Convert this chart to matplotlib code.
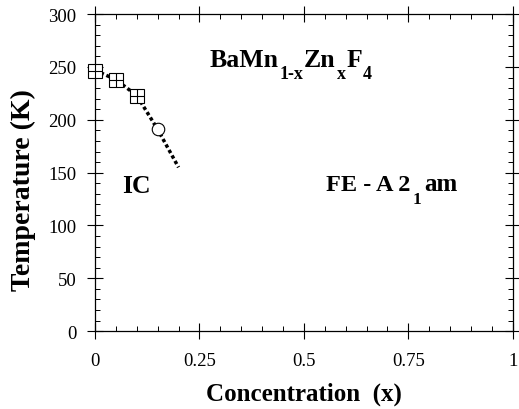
import matplotlib
matplotlib.use("Agg")
import matplotlib.pyplot as plt
from matplotlib.ticker import MultipleLocator

plt.rcParams['font.family'] = ['Liberation Serif', 'DejaVu Serif']

# Phase boundary (IC -> FE) of BaMn(1-x)Zn(x)F4
line_x = [0.0, 0.05, 0.10, 0.15, 0.20]
line_T = [247, 238, 223, 191, 155]

# Measured transition temperatures
square_x = [0.0, 0.05, 0.10]
square_T = [246, 238, 223]
circle_x = [0.15]
circle_T = [191]

x_ticks = [0, 0.25, 0.5, 0.75, 1]
x_tick_labels = ['0', '0.25', '0.5', '0.75', '1']
y_ticks = [0, 50, 100, 150, 200, 250, 300]

fig = plt.figure(figsize=(5.19, 4.10), dpi=100)
ax = fig.add_axes([0.183, 0.190, 0.805, 0.773])

ax.plot(line_x, line_T, color='black', lw=2.5, linestyle=(0, (1, 0.8)),
        dash_capstyle='butt', zorder=2)
ax.plot(square_x, square_T, linestyle='none', marker='s', markersize=9.5,
        markerfacecolor='white', markeredgecolor='black', markeredgewidth=0.8,
        clip_on=False, zorder=3)
ax.plot(square_x, square_T, linestyle='none', marker='+', markersize=9.5,
        markeredgecolor='black', markeredgewidth=0.8, clip_on=False, zorder=4)
ax.plot(circle_x, circle_T, linestyle='none', marker='o', markersize=9,
        markerfacecolor='white', markeredgecolor='black', markeredgewidth=0.8,
        zorder=3)

ax.set_xlim(0, 1)
ax.set_ylim(0, 300)
ax.set_xticks(x_ticks)
ax.set_xticklabels(x_tick_labels)
ax.set_yticks(y_ticks)
ax.xaxis.set_minor_locator(MultipleLocator(0.05))
ax.yaxis.set_minor_locator(MultipleLocator(10))
ax.tick_params(which='major', direction='inout', length=11, width=0.8,
               top=True, right=True, labelsize=13.5)
ax.tick_params(axis='x', which='major', pad=9.5)
ax.tick_params(axis='y', which='major', pad=8)
ax.tick_params(which='minor', direction='in', length=3.5, width=0.7,
               top=True, right=True)
for s in ax.spines.values():
    s.set_linewidth(0.9)

ax.set_xlabel('Concentration  (x)', fontsize=18, fontweight='bold', labelpad=9)
ax.set_ylabel('Temperature (K)', fontsize=20, fontweight='bold')
ax.yaxis.set_label_coords(-0.14, 0.448)


def chem_label(x, y, parts, sub_drop):
    """Write text pieces left to right: (text, fontsize, is_subscript, gap)."""
    prev = None
    for s, fs, is_sub, gap in parts:
        dy = -sub_drop if is_sub else 0
        if prev is None:
            prev = ax.annotate(s, xy=(x, y), xycoords='data',
                               xytext=(0, dy), textcoords='offset points',
                               fontsize=fs, fontweight='bold',
                               ha='left', va='baseline')
        else:
            prev = ax.annotate(s, xy=(1, y), xycoords=(prev, 'data'),
                               xytext=(gap, dy), textcoords='offset points',
                               fontsize=fs, fontweight='bold',
                               ha='left', va='baseline')


chem_label(0.275, 251, [('BaMn', 18.5, False, 0), ('1-x', 13, True, 0.5),
                        ('Zn', 18.5, False, 0.5), ('x', 13, True, 0.5),
                        ('F', 18.5, False, 0.5), ('4', 13, True, 0.5)], 9)
ax.text(0.10, 138, 'IC', fontsize=18.5, fontweight='bold', ha='center', va='center')
chem_label(0.553, 134, [('FE - A 2', 17.5, False, 0), ('1', 12.5, True, 1.5),
                        ('am', 18, False, 2)], 10)

fig.savefig('out.png', dpi=100)
